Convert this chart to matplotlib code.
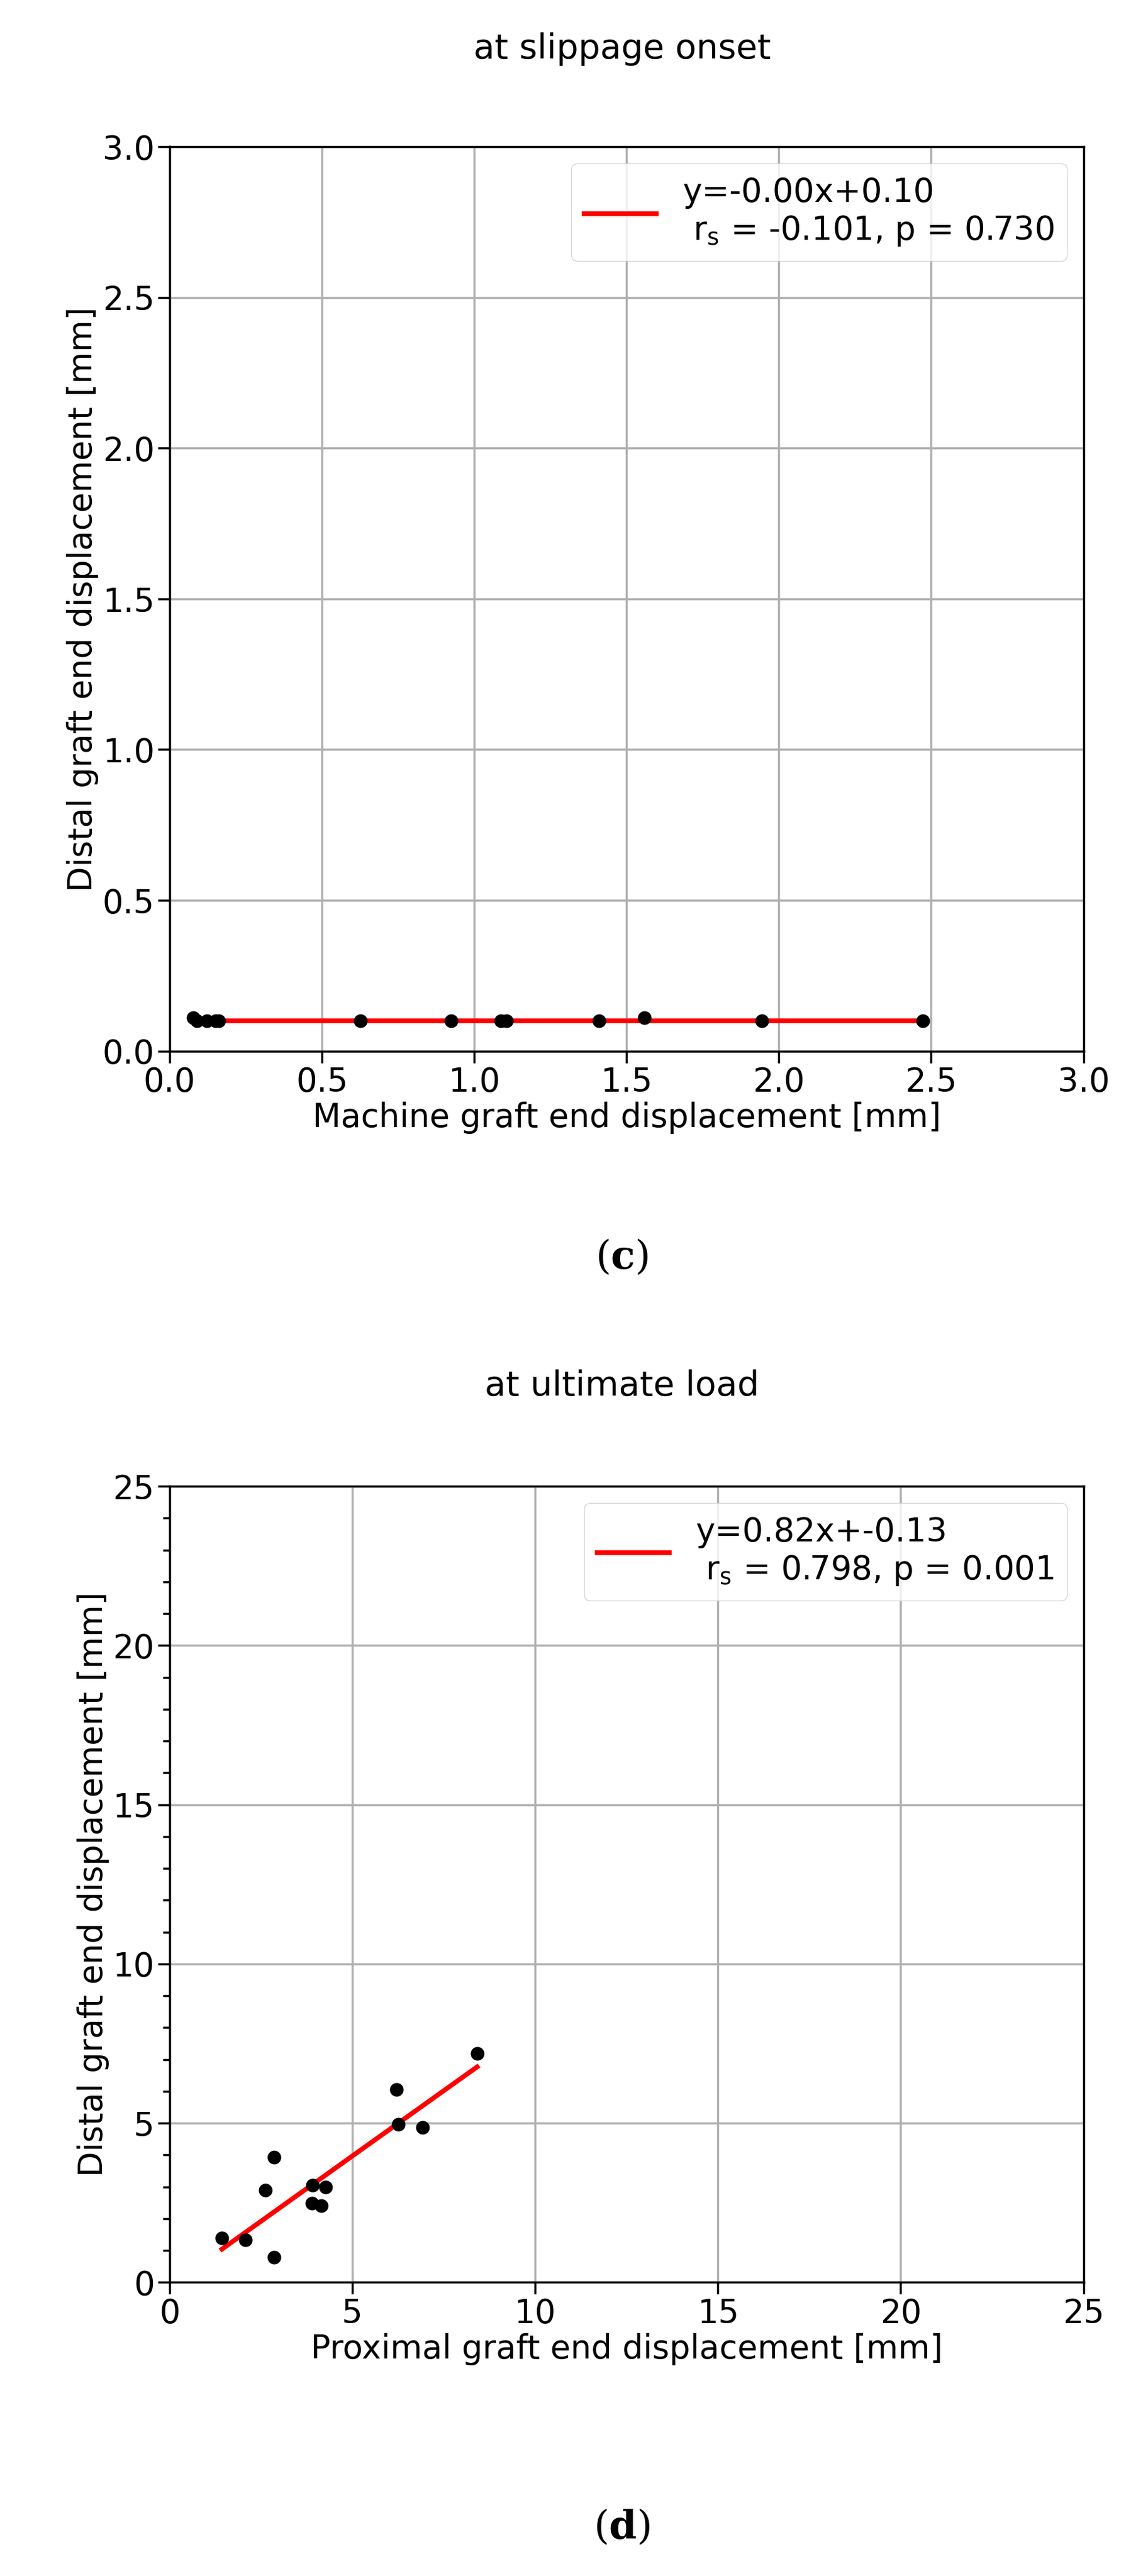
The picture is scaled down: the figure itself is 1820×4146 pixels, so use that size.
import matplotlib
matplotlib.use("Agg")
import matplotlib.pyplot as plt
import numpy as np

plt.rcParams['mathtext.fontset'] = 'dejavuserif'

c_x = [0.077, 0.09, 0.122, 0.15, 0.162, 0.627, 0.924, 1.088, 1.106, 1.41, 1.558, 1.945, 2.473]
c_y = [0.11, 0.10, 0.10, 0.10, 0.10, 0.10, 0.10, 0.10, 0.10, 0.10, 0.11, 0.10, 0.10]
c_fit = (-0.00, 0.10)
c_label = "y=-0.00x+0.10\n r$_\\mathregular{s}$ = -0.101, p = 0.730"

d_x = [1.43, 2.07, 2.61, 2.85, 2.85, 3.91, 4.27, 3.89, 4.14, 6.21, 6.26, 6.92, 8.41]
d_y = [1.40, 1.34, 2.89, 3.93, 0.78, 3.05, 2.99, 2.49, 2.40, 6.06, 4.97, 4.86, 7.18]
d_fit = (0.82, -0.13)
d_label = "y=0.82x+-0.13\n r$_\\mathregular{s}$ = 0.798, p = 0.001"

fs = 38
fig = plt.figure(figsize=(18.2, 41.46), dpi=100)

def panel(rect, x, y, fit, label, lim, ticks, xlabel, title, tag, tag_y, title_y, yminor):
    ax = fig.add_axes(rect)
    xs = np.array([min(x), max(x)])
    ax.plot(xs, fit[0]*xs + fit[1], color="red", lw=5.5, label=label, zorder=2)
    ax.scatter(x, y, color="black", s=220, zorder=3)
    ax.set_xlim(0, lim); ax.set_ylim(0, lim)
    ax.set_xticks(ticks); ax.set_yticks(ticks)
    ax.grid(True, color="#b0b0b0", lw=2.5)
    ax.set_axisbelow(True)
    if yminor:
        ax.yaxis.set_minor_locator(matplotlib.ticker.AutoMinorLocator(5))
    ax.tick_params(which="both", labelsize=fs, width=2.5)
    ax.tick_params(which="major", length=14)
    ax.tick_params(which="minor", length=8)
    for s in ax.spines.values():
        s.set_linewidth(2.5)
    ax.set_xlabel(xlabel, fontsize=fs)
    ax.set_ylabel("Distal graft end displacement [mm]", fontsize=fs)
    ax.legend(loc="upper right", fontsize=fs, handlelength=2.2)
    fig.text(0.55, title_y, title, ha="center", va="center", fontsize=fs + 2)
    fig.text(0.55, tag_y, "($\\mathbf{%s}$)" % tag, ha="center", va="center",
             fontsize=46, family="DejaVu Serif")
    return ax

panel([0.15, 0.592, 0.808, 0.351], c_x, c_y, c_fit, c_label, 3.0,
      [0, 0.5, 1.0, 1.5, 2.0, 2.5, 3.0], "Machine graft end displacement [mm]",
      "at slippage onset", "c", 0.512, 0.981, False)
panel([0.15, 0.114, 0.808, 0.309], d_x, d_y, d_fit, d_label, 25,
      [0, 5, 10, 15, 20, 25], "Proximal graft end displacement [mm]",
      "at ultimate load", "d", 0.019, 0.462, True)
fig.savefig("out.png", dpi=100)
